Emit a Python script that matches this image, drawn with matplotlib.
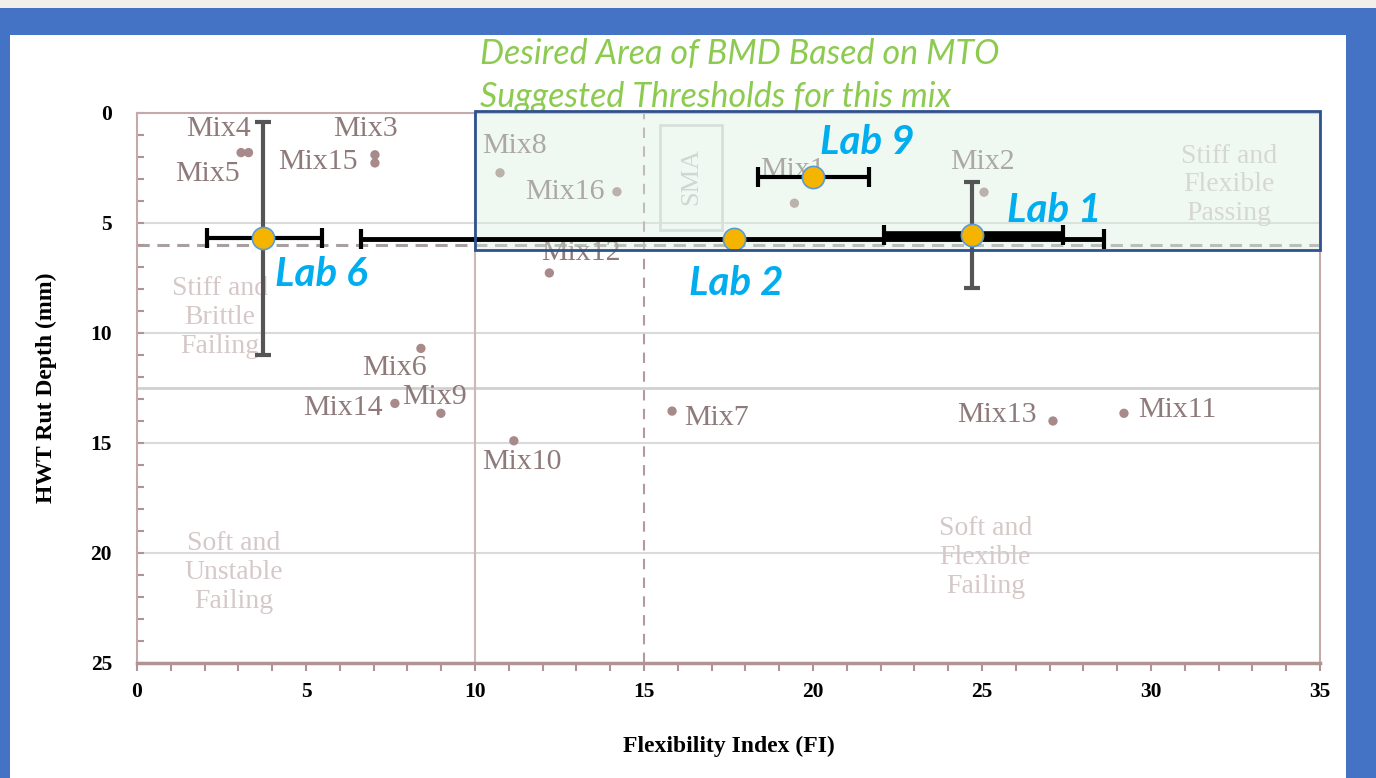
import matplotlib.pyplot as plt
from matplotlib.patches import Rectangle
from matplotlib.ticker import MultipleLocator

# mixes from the background study
mix_names = ['Mix1', 'Mix2', 'Mix3', 'Mix4', 'Mix5', 'Mix6', 'Mix7', 'Mix8',
             'Mix9', 'Mix10', 'Mix11', 'Mix12', 'Mix13', 'Mix14', 'Mix15', 'Mix16']
mix_fi = [19.45, 25.06, 7.04, 3.08, 3.3, 8.4, 15.83, 10.74,
          8.99, 11.15, 29.2, 12.2, 27.1, 7.63, 7.04, 14.2]
mix_rut = [4.1, 3.6, 1.9, 1.8, 1.8, 10.7, 13.55, 2.72,
           13.65, 14.9, 13.65, 7.27, 14.0, 13.2, 2.27, 3.58]

# lab results (mean, range)
lab_names = ['Lab 9', 'Lab 1', 'Lab 2', 'Lab 6']
lab_fi = [20.0, 24.7, 17.66, 3.73]
lab_rut = [2.9, 5.55, 5.73, 5.68]
lab_fi_lo = [18.37, 22.1, 6.63, 2.07]
lab_fi_hi = [21.66, 27.4, 28.6, 5.47]
lab_rut_lo = [None, 3.14, None, 0.41]
lab_rut_hi = [None, 7.95, None, 11.0]

# label offsets in pixels (layout only)
mix_off = {'Mix1': (-2, 33), 'Mix2': (-2, 30), 'Mix3': (-10, 26), 'Mix4': (-23, 24),
           'Mix5': (-41, -21), 'Mix6': (-26, -20), 'Mix7': (44, -7), 'Mix8': (14, 27),
           'Mix9': (-6, 16), 'Mix10': (8, -21), 'Mix11': (53, 3), 'Mix12': (32, 20),
           'Mix13': (-56, 6), 'Mix14': (-52, -5), 'Mix15': (-57, 1), 'Mix16': (-52, 0)}
lab_off = {'Lab 9': (7, 34), 'Lab 1': (35, 25), 'Lab 2': (-45, -44), 'Lab 6': (12, -37)}

serif = 'Liberation Serif'
fig = plt.figure(figsize=(13.76, 7.78), dpi=100)
fig.patch.set_facecolor('#4472C4')
fig.patches.append(Rectangle((10 / 1376, 0), 1336 / 1376, 743 / 778, transform=fig.transFigure,
                             facecolor='white', edgecolor='none', zorder=-2))
fig.patches.append(Rectangle((0, 770 / 778), 1, 8 / 778, transform=fig.transFigure,
                             facecolor='#F3F0EA', edgecolor='none', zorder=-2))

ax = fig.add_axes([137 / 1376, 1 - 663 / 778, 1183 / 1376, 550 / 778])
ax.set_xlim(0, 35)
ax.set_ylim(25, 0)
ax.set_facecolor('none')

for s in ['left', 'top', 'right']:
    ax.spines[s].set_color('#C4AAAA')
    ax.spines[s].set_linewidth(1.5)
ax.spines['bottom'].set_color('#B09494')
ax.spines['bottom'].set_linewidth(2.5)

ax.xaxis.set_major_locator(MultipleLocator(5))
ax.xaxis.set_minor_locator(MultipleLocator(1))
ax.yaxis.set_major_locator(MultipleLocator(5))
ax.yaxis.set_minor_locator(MultipleLocator(1))
ax.tick_params(axis='x', which='both', direction='out', color='#B09494', width=1.5, length=6, pad=8)
ax.tick_params(axis='y', which='both', direction='in', color='#B09494', width=1.5, length=5, pad=18)
for lab in ax.get_xticklabels() + ax.get_yticklabels():
    lab.set_fontfamily(serif)
    lab.set_fontweight('bold')
    lab.set_fontsize(15.5)

# grid and threshold lines
for yv in [5, 10, 15, 20]:
    ax.axhline(yv, color='#DADADA', lw=1.5, zorder=0)
ax.axhline(12.5, color='#D0D0D0', lw=2, zorder=0)
ax.axvline(10, color='#CDB8B8', lw=1.5, zorder=0)
ax.axvline(15, color='#B49A9A', lw=1.5, ls=(0, (5, 4)), zorder=0)
ax.axhline(6, color='#A8A0A0', lw=2.2, ls=(0, (4, 2.5)), zorder=1)

# SMA box
ax.add_patch(Rectangle((15.47, 0.55), 1.83, 4.75, fill=False, edgecolor='#D6D6D6', lw=2, zorder=1))
ax.text(16.4, 2.9, 'SMA', rotation=90, ha='center', va='center', family=serif,
        fontsize=19, color='#C8C8C8', zorder=1)

# region names
region_kw = dict(ha='center', va='center', family=serif, fontsize=20, color='#D6C8C8',
                 linespacing=1.2, zorder=1)
ax.text(32.3, 3.27, 'Stiff and\nFlexible\nPassing', **region_kw)
ax.text(2.45, 9.3, 'Stiff and\nBrittle\nFailing', **region_kw)
ax.text(2.85, 20.9, 'Soft and\nUnstable\nFailing', **region_kw)
ax.text(25.1, 20.2, 'Soft and\nFlexible\nFailing', **region_kw)

# mixes
ax.scatter(mix_fi, mix_rut, s=45, color='#A88A8A', edgecolors='none', zorder=2)
for name, fx, ry in zip(mix_names, mix_fi, mix_rut):
    ax.annotate(name, (fx, ry), xytext=mix_off[name], textcoords='offset pixels',
                ha='center', va='center', family=serif, fontsize=21.5, color='#8E7A7A', zorder=2)

# desired area
ax.add_patch(Rectangle((10, -0.1), 25, 6.35, facecolor='#D8F0E0', alpha=0.4,
                       edgecolor='none', zorder=3, clip_on=False))
ax.add_patch(Rectangle((10, -0.1), 25, 6.35, fill=False, edgecolor='#2F528F', lw=2,
                       zorder=6, clip_on=False))
ax.text(10.15, -1.7, 'Desired Area of BMD Based on MTO\nSuggested Thresholds for this mix',
        ha='left', va='center', family='Lato', style='italic', fontsize=24.5,
        color='#8CCB50', linespacing=1.45)

# lab results
caps = {'Lab 9': 3, 'Lab 1': 5.5, 'Lab 2': 3.5, 'Lab 6': 3}
order = [2, 0, 3, 1]
for i in order:
    fx, ry = lab_fi[i], lab_rut[i]
    ax.errorbar(fx, ry, xerr=[[fx - lab_fi_lo[i]], [lab_fi_hi[i] - fx]], fmt='none',
                ecolor='black', elinewidth=caps[lab_names[i]], capsize=7, capthick=3, zorder=4)
for i in order:
    fx, ry = lab_fi[i], lab_rut[i]
    if lab_rut_lo[i] is not None:
        ax.errorbar(fx, ry, yerr=[[ry - lab_rut_lo[i]], [lab_rut_hi[i] - ry]], fmt='none',
                    ecolor='#555555', elinewidth=3, capsize=6, capthick=3, zorder=4)
ax.plot(lab_fi, lab_rut, 'o', ms=16, mfc='#F4B400', mec='#5B9BD5', mew=1.2, zorder=5)
for name, fx, ry in zip(lab_names, lab_fi, lab_rut):
    ax.annotate(name, (fx, ry), xytext=lab_off[name], textcoords='offset pixels',
                ha='left', va='center', family='Lato', style='italic', weight='bold',
                fontsize=29, color='#00AEEF', zorder=7)

ax.set_xlabel('Flexibility Index (FI)', family=serif, fontweight='bold', fontsize=17, labelpad=24)
ax.set_ylabel('HWT Rut Depth (mm)', family=serif, fontweight='bold', fontsize=17, labelpad=24)

fig.savefig('out.png', dpi=100)
